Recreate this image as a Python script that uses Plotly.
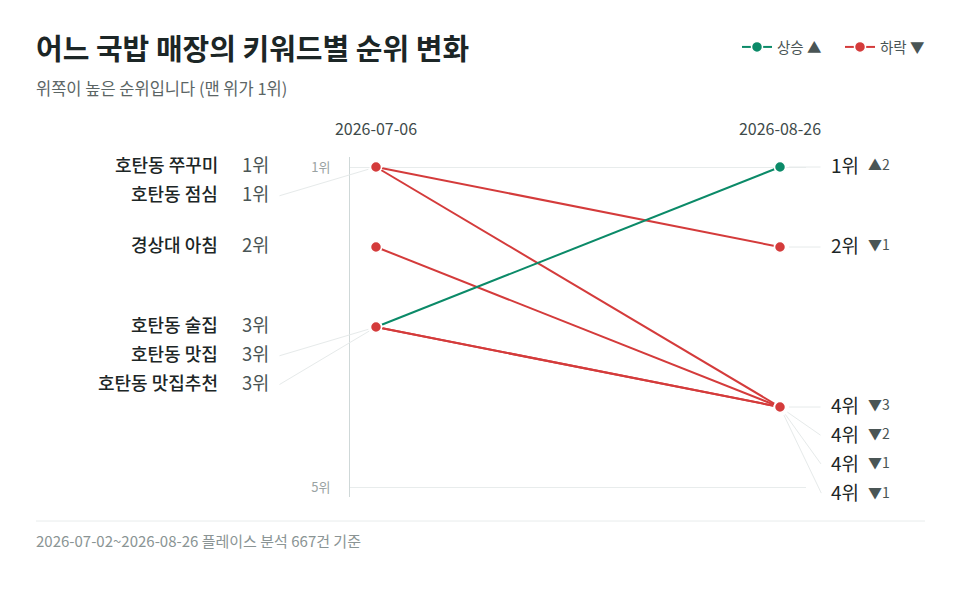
import plotly.graph_objects as go

# 키워드별 순위 (시작일 / 종료일)
keywords = ["호탄동 쭈꾸미", "호탄동 점심", "경상대 아침", "호탄동 술집", "호탄동 맛집", "호탄동 맛집추천"]
rank_start = [1, 1, 2, 3, 3, 3]
rank_end = [2, 4, 4, 1, 4, 4]
dates = ["2026-07-06", "2026-08-26"]
rank_ticks = [1, 5]
rank_tick_text = ["1위", "5위"]
legend_up = "상승 ▲"
legend_down = "하락 ▼"

FONT = "Noto Sans CJK KR, Noto Sans, sans-serif"
GREEN = "#0b8a68"
RED = "#d43b3b"
DARK = "#1c2626"
MID = "#4a5555"
LIGHT = "#e6eaea"
GAP = 0.365  # minimum label spacing, in rank units


def spread(ranks, order):
    out = [0.0] * len(ranks)
    prev = None
    for i in order:
        y = ranks[i] if prev is None else max(ranks[i], prev + GAP)
        out[i] = y
        prev = y
    return out


left_order = sorted(range(len(keywords)), key=lambda i: rank_start[i])
right_order = sorted(range(len(keywords)),
                     key=lambda i: (rank_end[i], rank_start[i] - rank_end[i]))
left_y = spread(rank_start, left_order)
right_y = spread(rank_end, right_order)

fig = go.Figure()

shown = set()
# lines first
for i, kw in enumerate(keywords):
    up = rank_end[i] < rank_start[i]
    color = GREEN if up else RED
    grp = "up" if up else "down"
    fig.add_trace(go.Scatter(
        x=[0, 1], y=[rank_start[i], rank_end[i]],
        mode="lines+markers",
        line=dict(color=color, width=2),
        marker=dict(size=11, color=color, line=dict(color="white", width=1.5)),
        name=legend_up if up else legend_down,
        legendgroup=grp,
        legendrank=1 if up else 2,
        showlegend=grp not in shown,
        hoverinfo="skip",
    ))
    shown.add(grp)

# markers on top
for i, kw in enumerate(keywords):
    up = rank_end[i] < rank_start[i]
    color = GREEN if up else RED
    fig.add_trace(go.Scatter(
        x=[0, 1], y=[rank_start[i], rank_end[i]],
        mode="markers",
        marker=dict(size=11, color=[RED, color], line=dict(color="white", width=1.5)),
        showlegend=False,
        hovertemplate=kw + "<extra></extra>",
    ))

annotations = []
for i, kw in enumerate(keywords):
    annotations.append(dict(
        x=0, y=left_y[i], xref="x", yref="y", text=kw, showarrow=False,
        xanchor="right", xshift=-156, yshift=3,
        font=dict(size=18, color=DARK, family=FONT, weight=500)))
    annotations.append(dict(
        x=0, y=left_y[i], xref="x", yref="y", text="%d위" % rank_start[i],
        showarrow=False, xanchor="left", xshift=-136, yshift=3,
        font=dict(size=18.5, color=MID, family=FONT)))
    if abs(left_y[i] - rank_start[i]) > 1e-6:
        annotations.append(dict(
            x=0, y=rank_start[i], xref="x", yref="y",
            ax=-98 / 404, ay=left_y[i], axref="x", ayref="y",
            text="", showarrow=True, arrowhead=0, arrowwidth=1,
            arrowcolor=LIGHT, standoff=8))

    d = rank_start[i] - rank_end[i]
    chg = ("▲%d" % d) if d > 0 else ("▼%d" % -d)
    annotations.append(dict(
        x=1, y=rank_end[i], xref="x", yref="y",
        ax=1 + 42 / 404, ay=right_y[i], axref="x", ayref="y",
        text="", showarrow=True, arrowhead=0, arrowwidth=1,
        arrowcolor=LIGHT, standoff=9))
    annotations.append(dict(
        x=1, y=right_y[i], xref="x", yref="y", text="%d위" % rank_end[i],
        showarrow=False, xanchor="left", xshift=49, yshift=3,
        font=dict(size=19, color=DARK, family=FONT)))
    annotations.append(dict(
        x=1, y=right_y[i], xref="x", yref="y", text=chg,
        showarrow=False, xanchor="left", xshift=86, yshift=3,
        font=dict(size=14, color=MID, family=FONT)))

annotations.append(dict(
    x=-0.693, y=1.203, xref="paper", yref="paper", xanchor="left", yanchor="middle",
    text="위쪽이 높은 순위입니다 (맨 위가 1위)", showarrow=False,
    font=dict(size=16.5, color="#5b6565", family=FONT)))
annotations.append(dict(
    x=-0.693, y=-0.1265, xref="paper", yref="paper", xanchor="left", yanchor="middle",
    text="2026-07-02~2026-08-26 플레이스 분석 667건 기준", showarrow=False,
    font=dict(size=15, color="#8a9494", family=FONT)))

fig.update_layout(
    width=960, height=589,
    paper_bgcolor="white", plot_bgcolor="white",
    margin=dict(l=342, r=162, t=149, b=100),
    font=dict(family=FONT, color=MID),
    title=dict(
        text="어느 국밥 매장의 키워드별 순위 변화",
        x=28 / 960, xanchor="left", xref="container",
        y=1 - 42 / 589, yanchor="middle", yref="container",
        font=dict(size=29, color=DARK, family=FONT, weight=700),
    ),
    legend=dict(
        orientation="h", xref="container", yref="container",
        x=729 / 960, xanchor="left", y=1 - 39 / 589, yanchor="middle",
        font=dict(size=14.5, color=MID, family=FONT),
        itemwidth=30, entrywidth=58, entrywidthmode="pixels",
        bgcolor="rgba(0,0,0,0)",
    ),
    xaxis=dict(
        range=[-26 / 404, 1 + 26 / 404], side="top",
        tickvals=[0, 1], ticktext=dates, ticks="",
        ticklabelstandoff=18,
        tickfont=dict(size=16, color="#3e4a4a", family=FONT),
        showgrid=False, zeroline=False, showline=False, fixedrange=True,
    ),
    yaxis=dict(
        range=[5 + 0.125, 1 - 0.125],
        tickvals=rank_ticks, ticktext=rank_tick_text, ticks="",
        ticklabelstandoff=16,
        tickfont=dict(size=13, color="#9aa3a3", family=FONT),
        showgrid=True, gridcolor="#e8ecec", gridwidth=1,
        showline=True, linecolor="#cfd8d8", linewidth=1,
        zeroline=False, fixedrange=True,
    ),
    annotations=annotations,
    shapes=[dict(
        type="line", xref="paper", yref="paper",
        x0=-0.6886, x1=(925 - 350) / 456, y0=-0.0706, y1=-0.0706,
        line=dict(color="#e8ecec", width=1),
    )],
    showlegend=True,
)

fig.write_html("out.html")
